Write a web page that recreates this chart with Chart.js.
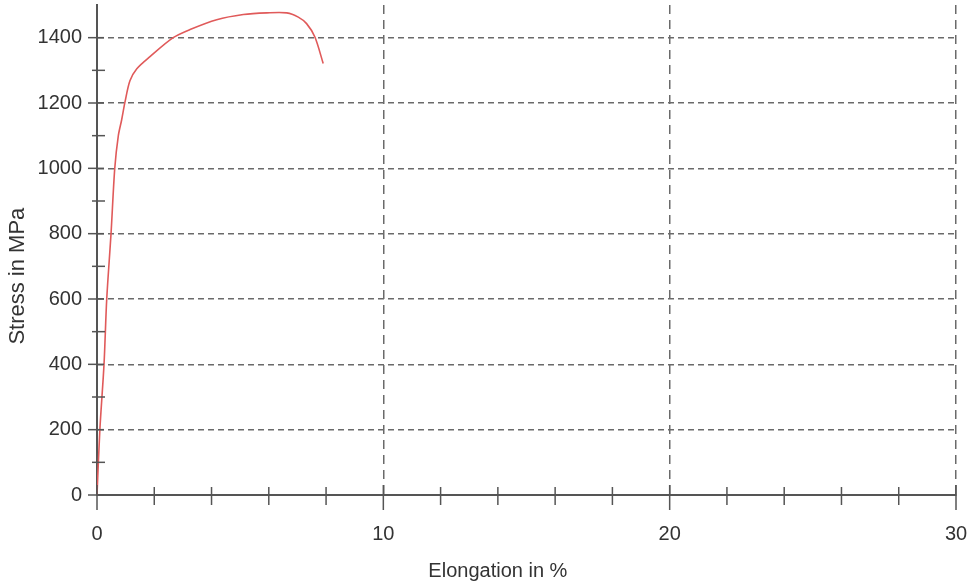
<!DOCTYPE html>
<html>
<head>
<meta charset="utf-8">
<script src="https://cdn.jsdelivr.net/npm/chart.js@4/dist/chart.umd.min.js"></script>
<style>
body { margin: 0; background: #fff; }
canvas { display: block; }
</style>
</head>
<body>
<canvas id="chart" width="974" height="586"></canvas>
<script>

/* data */

const elongation = [0, 0.10, 0.245, 0.34, 0.49, 0.62, 0.745, 0.86, 0.98, 1.15, 1.39, 1.85, 2.66, 3.25, 4.18, 5.11, 5.93, 6.63, 7.03, 7.32, 7.61, 7.90];
const stress = [0, 200, 400, 600, 800, 1000, 1100, 1148, 1204, 1268, 1305, 1342, 1400, 1425, 1455, 1471, 1476, 1476, 1463, 1443, 1402, 1321];

/* ticks */

const xMajor = [0, 10, 20, 30];
const xMinor = [2, 4, 6, 8, 12, 14, 16, 18, 22, 24, 26, 28];
const yMajor = [0, 200, 400, 600, 800, 1000, 1200, 1400];
const yMinor = [100, 300, 500, 700, 900, 1100, 1300];

const xTitle = "Elongation in %";
const yTitle = "Stress in MPa";

const points = elongation.map((e, i) => ({ x: e, y: stress[i] }));

const font = "'Liberation Sans', Arial, sans-serif";
const axisColor = "#555";
const textColor = "#333";

/* tick marks + axis titles */

const extras = {
id: "extras",
afterDraw(chart){

const ctx = chart.ctx;
const xs = chart.scales.x;
const ys = chart.scales.y;

ctx.save();
ctx.strokeStyle = axisColor;
ctx.lineWidth = 1.5;

function line(x1, y1, x2, y2){
ctx.beginPath();
ctx.moveTo(x1, y1);
ctx.lineTo(x2, y2);
ctx.stroke();
}

xMajor.forEach(v => {
let px = xs.getPixelForValue(v);
line(px, ys.bottom - 10, px, ys.bottom + 15);
});
xMinor.forEach(v => {
let px = xs.getPixelForValue(v);
line(px, ys.bottom - 8, px, ys.bottom + 10);
});
yMajor.forEach(v => {
let py = ys.getPixelForValue(v);
line(xs.left - 9, py, xs.left + 7, py);
});
yMinor.forEach(v => {
let py = ys.getPixelForValue(v);
line(xs.left - 5, py, xs.left + 8, py);
});

ctx.fillStyle = textColor;
ctx.textAlign = "center";
ctx.textBaseline = "middle";
ctx.font = "20px " + font;
ctx.fillText(xTitle, xs.getPixelForValue(14), 571);

ctx.font = "22px " + font;
ctx.translate(18, ys.getPixelForValue(670));
ctx.rotate(-Math.PI / 2);
ctx.fillText(yTitle, 0, 0);

ctx.restore();

}
};

function noPadding(scale){
scale.paddingTop = 0;
scale.paddingBottom = 0;
scale.paddingLeft = 0;
scale.paddingRight = 0;
}

new Chart(document.getElementById("chart"), {
type: "line",
data: {
datasets: [{
data: points,
borderColor: "#e05a5a",
borderWidth: 1.6,
pointRadius: 0,
tension: 0.3,
fill: false
}]
},
options: {
responsive: false,
animation: false,
layout: { padding: { left: 0, right: 18, top: 5, bottom: 0 } },
plugins: {
legend: { display: false },
tooltip: { enabled: false }
},
scales: {
x: {
type: "linear",
min: 0,
max: 30,
afterBuildTicks: scale => { scale.ticks = xMajor.map(v => ({ value: v })); },
afterFit: scale => { scale.height = 91; noPadding(scale); },
grid: {
color: ctx => ctx.tick && ctx.tick.value === 0 ? "rgba(0,0,0,0)" : "#6a6a6a",
lineWidth: 1.5,
drawTicks: false
},
border: { color: axisColor, width: 2, dash: [9, 6] },
ticks: {
color: textColor,
font: { family: font, size: 20 },
padding: 27,
maxRotation: 0,
callback: v => String(v)
}
},
y: {
type: "linear",
min: 0,
max: 1500,
afterBuildTicks: scale => { scale.ticks = yMajor.map(v => ({ value: v })); },
afterFit: scale => { scale.width = 97; noPadding(scale); },
grid: {
color: ctx => ctx.tick && ctx.tick.value === 0 ? "rgba(0,0,0,0)" : "#6a6a6a",
lineWidth: 1.5,
drawTicks: false
},
border: { color: axisColor, width: 2, dash: [6, 4] },
ticks: {
color: textColor,
font: { family: font, size: 20 },
padding: 15,
callback: v => String(v)
}
}
}
},
plugins: [extras]
});

</script>
</body>
</html>
